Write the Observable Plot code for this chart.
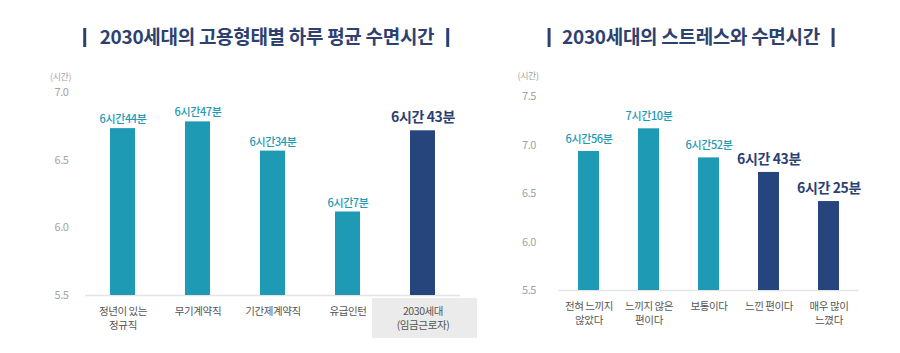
<!DOCTYPE html>
<html><head><meta charset="utf-8">
<script src="https://cdn.jsdelivr.net/npm/d3@7"></script>
<script src="https://cdn.jsdelivr.net/npm/@observablehq/plot@0.6"></script>
<style>
body{margin:0;width:900px;height:353px;position:relative;background:#fff;font-family:"Noto Sans CJK KR","Noto Sans",sans-serif;overflow:hidden}
.title{position:absolute;top:25px;line-height:22px;font-weight:700;font-size:19px;color:#2d4170;white-space:nowrap;transform:translateX(-50%);letter-spacing:-0.3px}
.bar{display:inline-block;width:2.5px;height:19px;background:#2d4170;vertical-align:-3px}
.chart{position:absolute;top:0}
.chart svg text{letter-spacing:-0.4px}
</style></head><body>
<div class="title" style="left:266px"><span class="bar" style="margin-right:14px"></span>2030세대의 고용형태별 하루 평균 수면시간<span class="bar" style="margin-left:12px"></span></div>
<div class="title" style="left:691px"><span class="bar" style="margin-right:12px"></span>2030세대의 스트레스와 수면시간<span class="bar" style="margin-left:12px"></span></div>
<div id="left" class="chart" style="left:0"></div>
<div id="right" class="chart" style="left:440px"></div>
<script>
const employCats = ["정년이 있는\n정규직", "무기계약직", "기간제계약직", "유급인턴", "2030세대\n(임금근로자)"];
const employHours = [6.733, 6.783, 6.567, 6.117, 6.717];
const employLabels = ["6시간44분", "6시간47분", "6시간34분", "6시간7분", "6시간 43분"];
const employGroup = ["sub", "sub", "sub", "sub", "total"];
const employTicks = [5.5, 6.0, 6.5, 7.0];

const stressCats = ["전혀 느끼지\n않았다", "느끼지 않은\n편이다", "보통이다", "느낀 편이다", "매우 많이\n느꼈다"];
const stressHours = [6.933, 7.167, 6.867, 6.717, 6.417];
const stressLabels = ["6시간56분", "7시간10분", "6시간52분", "6시간 43분", "6시간 25분"];
const stressGroup = ["low", "low", "low", "high", "high"];
const stressTicks = [5.5, 6.0, 6.5, 7.0, 7.5];

const unitLabel = "(시간)";
const TEAL = "#1e9ab5", NAVY = "#27457d";
const FONT = "'Noto Sans CJK KR', sans-serif";

const employ = employCats.map((c, i) => ({cat: c, v: employHours[i], label: employLabels[i], g: employGroup[i]}));
const stress = stressCats.map((c, i) => ({cat: c, v: stressHours[i], label: stressLabels[i], g: stressGroup[i]}));

function chart(data, cats, ticks, domain, opt) {
  const dark = opt.dark;
  return Plot.plot({
    width: 460, height: 353,
    marginLeft: opt.ml, marginRight: opt.mr, marginTop: opt.mt, marginBottom: opt.mb,
    style: {background: "transparent", overflow: "visible", fontFamily: FONT},
    x: {domain: cats, paddingInner: opt.pi, paddingOuter: opt.pi / 2, axis: null, label: null},
    y: {domain, axis: null, label: null},
    marks: [
      ...(opt.box ? [Plot.barY([cats[cats.length - 1]], {x: d => d, y1: domain[0], y2: domain[0], fill: "#ebebeb",
        insetLeft: -38, insetRight: -42, insetTop: 3, insetBottom: -43})] : []),
      Plot.ruleY([domain[0]], {stroke: "#e4e4e4", strokeWidth: 1.5}),
      Plot.axisY(ticks, {tickSize: 0, tickPadding: opt.tp, fontSize: 11, color: "#a3a3a3", label: null, tickFormat: d => d.toFixed(1)}),
      Plot.text([unitLabel], {frameAnchor: "top-left", dx: opt.udx, dy: opt.udy, fontSize: 9, fill: "#a3a3a3", textAnchor: "middle"}),
      Plot.barY(data, {x: "cat", y1: domain[0], y2: "v", fill: d => d.g === dark ? NAVY : TEAL}),
      Plot.text(data.filter(d => d.g !== dark), {x: "cat", y: "v", text: "label", dy: opt.tdy, fontSize: 11, fill: TEAL, fontWeight: 500}),
      Plot.text(data.filter(d => d.g === dark), {x: "cat", y: "v", text: "label", dy: -13, fontSize: 14, fill: "#2b3f74", fontWeight: 700}),
      Plot.axisX({tickSize: 0, tickPadding: 9, fontSize: 10.5, fill: "#555", lineHeight: 1.35, label: null})
    ]
  });
}

document.getElementById("left").append(chart(employ, employCats, employTicks, [5.5, 7.0],
  {dark: "total", ml: 85, mr: 0, mt: 92, mb: 58, pi: 0.667, tp: 17, udx: -25, udy: -19, tdy: -9, box: true}));
document.getElementById("right").append(chart(stress, stressCats, stressTicks, [5.5, 7.5],
  {dark: "high", ml: 118.5, mr: 41.5, mt: 96, mb: 63, pi: 0.65, tp: 23, udx: -31, udy: -24, tdy: -12, box: false}));
</script>
</body></html>
